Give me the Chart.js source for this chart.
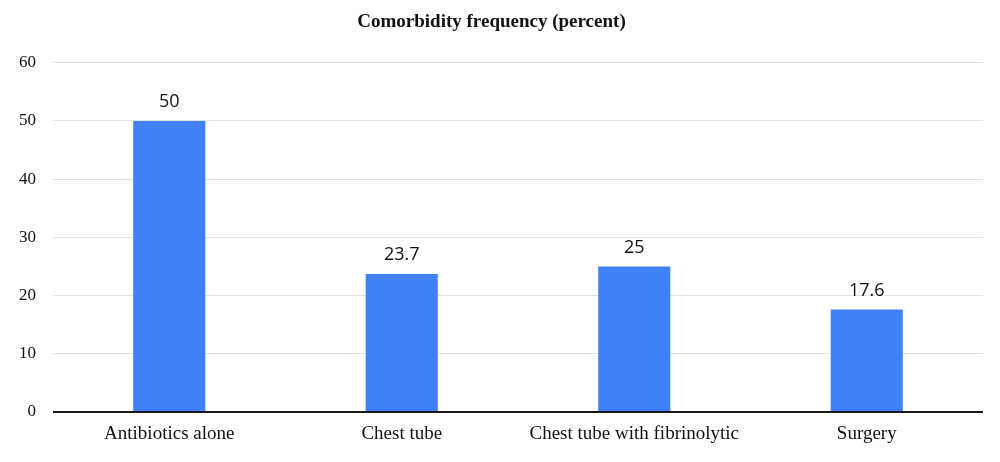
<!DOCTYPE html>
<html>
<head>
<meta charset="utf-8">
<script src="https://cdn.jsdelivr.net/npm/chart.js@4"></script>
<style>
  html, body { margin: 0; padding: 0; background: #fff; }
  #wrap { width: 1000px; height: 462px; }
</style>
</head>
<body>
<div id="wrap"><canvas id="comorbidityChart"></canvas></div>
<script>
var chartTitle = "Comorbidity frequency (percent)";
var categories = ["Antibiotics alone", "Chest tube", "Chest tube with fibrinolytic", "Surgery"];
var frequencies = [50, 23.7, 25, 17.6];
var yTicks = [0, 10, 20, 30, 40, 50, 60];

// writes the value above each bar
var valueLabels = {
  id: 'valueLabels',
  afterDatasetsDraw: function(chart) {
    var ctx = chart.ctx;
    var meta = chart.getDatasetMeta(0);
    ctx.save();
    ctx.font = '18px "Open Sans"';
    ctx.fillStyle = '#111';
    ctx.textAlign = 'center';
    ctx.textBaseline = 'bottom';
    meta.data.forEach(function(bar, i) {
      ctx.fillText(String(frequencies[i]), bar.x, bar.y - 10);
    });
    ctx.restore();
  }
};

var canvas = document.getElementById('comorbidityChart');
var myBarChart = new Chart(canvas, {
  type: 'bar',
  data: {
    labels: categories,
    datasets: [{
      label: chartTitle,
      data: frequencies,
      backgroundColor: '#4080f8',
      borderWidth: 0,
      categoryPercentage: 1,
      barPercentage: 0.31
    }]
  },
  options: {
    responsive: true,
    maintainAspectRatio: false,
    animation: false,
    layout: { padding: { left: 0, right: 17, top: 0, bottom: 0 } },
    plugins: {
      legend: { display: false },
      tooltip: { enabled: false },
      title: {
        display: true,
        text: chartTitle,
        color: '#111',
        font: { family: '"Liberation Serif"', size: 19, weight: 'bold' },
        padding: { top: 11, bottom: 29 }
      }
    },
    scales: {
      x: {
        grid: { display: false, drawTicks: false },
        border: { display: false },
        ticks: {
          color: '#111',
          padding: 11,
          font: { family: '"Liberation Serif"', size: 19 }
        },
        afterFit: function(scale) { scale.height = 50; }
      },
      y: {
        min: 0,
        max: 60,
        afterBuildTicks: function(scale) {
          scale.ticks = yTicks.map(function(v) { return { value: v }; });
        },
        grid: {
          drawTicks: false,
          color: function(c) { return c.tick && c.tick.value === 0 ? '#1a1a1a' : '#dfe2e2'; },
          lineWidth: function(c) { return c.tick && c.tick.value === 0 ? 2 : 1; }
        },
        border: { display: false },
        ticks: {
          color: '#111',
          padding: 17,
          font: { family: '"Liberation Serif"', size: 17 }
        },
        afterFit: function(scale) { scale.width = 53; }
      }
    }
  },
  plugins: [valueLabels]
});
</script>
</body>
</html>
